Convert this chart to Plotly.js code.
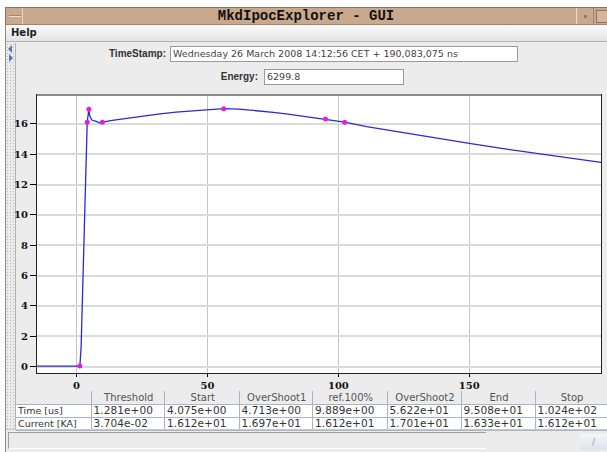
<!DOCTYPE html>
<html><head><meta charset="utf-8">
<script src="https://cdn.plot.ly/plotly-3.0.1.min.js"></script>
<style>
html,body{margin:0;padding:0;width:607px;height:452px;overflow:hidden;background:#fff;font-family:"DejaVu Sans",sans-serif;}
.abs{position:absolute;box-sizing:border-box;}
#win{left:5px;top:7px;width:602px;height:445px;background:#ececec;border-left:1px solid #8a8a8a;}
#titlebar{left:5px;top:7px;width:602px;height:18px;background:#c9a98d;border-top:1px solid #8c7462;border-left:1px solid #8c7462;border-bottom:1px solid #9c8472;}
#title{left:5px;top:8px;width:602px;height:17px;text-align:center;font:bold 14px "Liberation Mono",monospace;line-height:17px;color:#111;}
#minbtn{left:6px;top:8px;width:17px;height:16px;border-right:1px solid #e6d6c6;}
#minline{left:9px;top:15px;width:12px;height:2px;background:#eadccf;border-top:1px solid #a08878;}
#rb1{left:576px;top:8px;width:18px;height:16px;border-left:1px solid #eadccf;border-right:1px solid #9c8472;}
#rb1dot{left:584px;top:15px;width:3px;height:3px;background:#8a7a70;}
#rb2{left:596px;top:10px;width:14px;height:13px;border:1px solid #8a7462;border-right:none;background:#d4b6a0;}
#menubar{left:6px;top:25px;width:601px;height:17px;background:linear-gradient(#fbfbfb,#e4e4e4);border-bottom:1px solid #b4b4b4;}
#help{left:11px;top:27px;font:bold 10px "DejaVu Sans",sans-serif;color:#222;}
#strip{left:6px;top:43px;width:10px;height:387px;border-right:1px solid #b0b0b0;background-image:radial-gradient(#b8b8b8 0.6px,transparent 0.8px);background-size:3px 3px;background-color:#ececec;}
#arr1{left:8px;top:45px;width:0;height:0;border-top:4px solid transparent;border-bottom:4px solid transparent;border-right:4px solid #5577aa;}
#arr2{left:9px;top:54px;width:0;height:0;border-top:4px solid transparent;border-bottom:4px solid transparent;border-left:4px solid #5577aa;}
.lbl{font:bold 10px "Liberation Sans",sans-serif;color:#333;text-align:right;}
.fld{background:#fff;border:1px solid #9a9a9a;font:9.5px "DejaVu Sans",sans-serif;color:#444;padding-left:2px;line-height:14px;white-space:nowrap;overflow:hidden;}
#plot{left:8px;top:88px;width:599px;height:305px;}
#tbl{left:16px;top:391px;border-collapse:collapse;table-layout:fixed;font:9.5px "DejaVu Sans",sans-serif;}
#tbl td,#tbl th{border:1px solid #a9b5c6;padding:0 0 0 2px;white-space:nowrap;overflow:hidden;height:12px;line-height:11px;}
#tbl th{font-weight:normal;font-size:10px;color:#555;text-align:center;background:#ececec;border-top:none;}
#tbl td{background:#fff;color:#333;text-align:left;}
#tbl td.num{font-size:10.5px;letter-spacing:0.1px;}
#tbl tr td:first-child{border-left:none;}
#status{left:8px;top:432px;width:478px;height:17px;border-top:1px solid #a0a0a0;border-left:1px solid #a0a0a0;border-bottom:1px solid #fff;background:#ececec;}
#statline{left:6px;top:429px;width:601px;height:1px;background:#c8c8c8;}
#sbtn{left:580px;top:434px;width:27px;height:16px;background:linear-gradient(#f4f6f8,#dde3ea);color:#8899aa;font:9px "DejaVu Sans",sans-serif;text-align:center;line-height:16px;}
</style></head>
<body>
<div id="win" class="abs"></div>
<div id="titlebar" class="abs"></div>
<div id="minbtn" class="abs"></div><div id="minline" class="abs"></div>
<div id="rb1" class="abs"></div><div id="rb1dot" class="abs"></div>
<div id="rb2" class="abs"></div>
<div id="title" class="abs">MkdIpocExplorer - GUI</div>
<div id="menubar" class="abs"></div>
<div id="help" class="abs">Help</div>
<div id="strip" class="abs"></div><div id="arr1" class="abs"></div><div id="arr2" class="abs"></div>
<div class="abs lbl" style="left:60px;top:48px;width:106px;">TimeStamp:</div>
<div class="abs fld" id="tsField" style="left:170px;top:46px;width:348px;height:16px;"></div>
<div class="abs lbl" style="left:160px;top:71px;width:98px;">Energy:</div>
<div class="abs fld" id="enField" style="left:264px;top:69px;width:140px;height:16px;"></div>
<div id="plot" class="abs"></div>
<table id="tbl" class="abs"></table>
<div id="statline" class="abs"></div>
<div id="status" class="abs"></div>
<div id="sbtn" class="abs">/</div>
<script>
// ---- data ----
const timeUs = [-15.1, 1.281, 1.75, 2.21, 2.52, 2.99, 3.30, 3.61, 3.92, 4.075, 4.713, 5.0, 5.85, 6.8, 7.75, 8.8, 9.889, 13, 19.2, 25, 31.9, 38, 44.6, 50, 56.22, 62, 68, 75.1, 80, 85.3, 90, 95.08, 102.4, 110.8, 123.5, 136.3, 150, 161.7, 174.4, 187.2, 200.3];
const currentKA = [0.037, 0.037, 1.32, 3.96, 7.03, 9.23, 10.99, 13.18, 14.73, 16.12, 16.97, 16.55, 16.26, 16.18, 16.15, 16.07, 16.12, 16.22, 16.37, 16.52, 16.66, 16.78, 16.88, 16.95, 17.01, 16.98, 16.90, 16.77, 16.66, 16.53, 16.44, 16.33, 16.12, 15.82, 15.45, 15.10, 14.72, 14.40, 14.09, 13.78, 13.47];
const pointNames = ["Threshold", "Start", "OverShoot1", "ref.100%", "OverShoot2", "End", "Stop"];
const pointTime = [1.281, 4.075, 4.713, 9.889, 56.22, 95.08, 102.4];
const pointCurrent = [0.03704, 16.12, 16.97, 16.12, 17.01, 16.33, 16.12];
const rowLabels = ["Time [us]", "Current [KA]"];
const timeStampText = "Wednesday 26 March 2008 14:12:56 CET + 190,083,075 ns";
const energyText = "6299.8";
const xTicks = [0, 50, 100, 150];
const yTicks = [0, 2, 4, 6, 8, 10, 12, 14, 16];

document.getElementById('tsField').textContent = timeStampText;
document.getElementById('enField').textContent = energyText;

function fmt(v){ return v.toExponential(3).replace(/e([+-])(\d)$/, 'e$10$2'); }
const widths = [75, 73.5, 74.5, 73.5, 74.5, 74, 74, 72];
const tbl = document.getElementById('tbl');
let cg = '<colgroup>' + widths.map(w => '<col style="width:' + w + 'px">').join('') + '</colgroup>';
let h = '<tr style="height:13px"><th style="border-left:none"></th>' + pointNames.map(n => '<th>' + n + '</th>').join('') + '</tr>';
h += '<tr style="height:13px"><td>' + rowLabels[0] + '</td>' + pointTime.map(v => '<td class="num">' + fmt(v) + '</td>').join('') + '</tr>';
h += '<tr style="height:12px"><td>' + rowLabels[1] + '</td>' + pointCurrent.map(v => '<td class="num">' + fmt(v) + '</td>').join('') + '</tr>';
tbl.innerHTML = cg + h;
tbl.style.width = widths.reduce((a,b)=>a+b,0) + 'px';

const tickFont = {family: 'DejaVu Serif, serif', size: 10, color: '#111', weight: 'bold'};
Plotly.newPlot('plot', [
  {x: timeUs, y: currentKA, type: 'scatter', mode: 'lines', line: {color: '#2a2ad2', width: 1.3}, hoverinfo: 'skip'},
  {x: pointTime, y: pointCurrent, type: 'scatter', mode: 'markers', marker: {color: '#e01fe0', size: 5}, hoverinfo: 'skip'}
], {
  width: 599, height: 305,
  margin: {l: 29, r: 6, t: 7, b: 20},
  paper_bgcolor: 'rgba(0,0,0,0)', plot_bgcolor: '#ffffff',
  showlegend: false,
  xaxis: {range: [-15.1, 200.3], tickvals: xTicks, ticktext: xTicks.map(String), ticks: 'outside', ticklen: 3, tickcolor: '#000',
          showgrid: true, gridcolor: '#c4c4c4', gridwidth: 1, zeroline: false, showline: true, linecolor: '#222', linewidth: 1, mirror: true,
          tickfont: tickFont},
  yaxis: {range: [-0.42, 17.91], tickvals: yTicks, ticktext: yTicks.map(String), ticks: 'outside', ticklen: 6, tickcolor: '#000',
          showgrid: true, gridcolor: '#dadada', gridwidth: 2, zeroline: false, showline: true, linecolor: '#222', linewidth: 1, mirror: true,
          tickfont: tickFont},
  shapes: [{type: 'line', xref: 'paper', yref: 'paper', x0: 0, x1: 1, y0: 1, y1: 1, line: {color: '#8a8a8a', width: 2}}]
}, {displayModeBar: false, staticPlot: true});
</script>
</body></html>
